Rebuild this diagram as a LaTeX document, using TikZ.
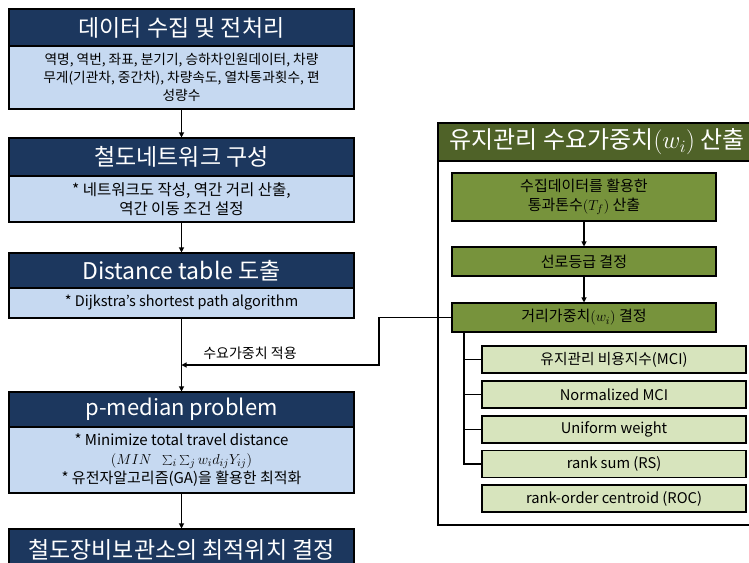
\documentclass[tikz,border=0pt]{standalone}
\usepackage{fontspec}
\setmainfont{Noto Sans CJK KR}
\usetikzlibrary{arrows.meta}
\definecolor{navy}{HTML}{1C375E}
\definecolor{lblue}{HTML}{C6D9F1}
\definecolor{dgreen}{HTML}{4F6228}
\definecolor{mgreen}{HTML}{77933C}
\definecolor{lgreen}{HTML}{D7E4BD}
\begin{document}
\begin{tikzpicture}[x=1pt,y=-1pt,
  hdr/.style={draw=black, line width=1.1pt, fill=navy, text=white, font=\fontsize{23}{27}\selectfont, minimum width=345pt, inner sep=0pt},
  bodyb/.style={draw=black, line width=1.1pt, fill=lblue, font=\fontsize{14.5}{18}\selectfont, align=center, minimum width=345pt, inner sep=0pt},
  ghdr/.style={draw=black, line width=1.1pt, fill=dgreen, text=white, font=\fontsize{24}{28}\selectfont, minimum width=318pt, minimum height=38pt, inner sep=0pt},
  mbox/.style={draw=black, line width=1.1pt, fill=mgreen, font=\fontsize{15}{18.5}\selectfont, align=center, minimum width=264pt, inner sep=0pt},
  lbox/.style={draw=black, line width=1.1pt, fill=lgreen, font=\fontsize{14.7}{18}\selectfont, align=center, minimum width=264pt, minimum height=27pt, inner sep=0pt},
  lbl/.style={font=\fontsize{14}{16}\selectfont, inner sep=0pt},
  conn/.style={line width=1.1pt},
  arr/.style={line width=1.1pt, -{Triangle[length=5pt,width=5pt]}}]
\clip (0,0) rectangle (749,562);
\fill[white] (0,0) rectangle (749,562);
% left column
\node[hdr, minimum height=37pt] (h1) at (181.5,27.5) {데이터 수집 및 전처리};
\node[bodyb, minimum height=63pt, font=\fontsize{13.7}{18}\selectfont] (b1) at (181.5,77.5) {역명, 역번, 좌표, 분기기, 승하차인원데이터, 차량\\무게(기관차, 중간차), 차량속도, 열차통과횟수, 편\\성량수};
\node[hdr, minimum height=38pt] (h2) at (181.5,157) {철도네트워크 구성};
\node[bodyb, minimum height=46pt, font=\fontsize{15.5}{18.5}\selectfont] (b2) at (181.5,199) {* 네트워크도 작성, 역간 거리 산출,\\역간 이동 조건 설정};
\node[hdr, minimum height=35pt] (h3) at (181.5,270.5) {Distance table 도출};
\node[bodyb, minimum height=30pt] (b3) at (181.5,303) {* Dijkstra’s shortest path algorithm};
\node[hdr, minimum height=35pt, font=\fontsize{22}{27}\selectfont] (h4) at (181.5,409.5) {p-median problem};
\node[bodyb, minimum height=66pt, font=\fontsize{15}{19}\selectfont] (b4) at (181.5,460) {* Minimize total travel distance\\$(MIN\;\;\sum_i\sum_j w_i d_{ij} Y_{ij})$\\* 유전자알고리즘(GA)을 활용한 최적화};
\node[hdr, minimum height=42pt] (h5) at (181.5,550) {철도장비보관소의 최적위치 결정};
\draw[arr] (b1.south) -- (h2.north);
\draw[arr] (b2.south) -- (h3.north);
\draw[arr] (b3.south) -- (h4.north);
\draw[arr] (b4.south) -- (h5.north);
% right panel
\node[draw=black, line width=1.1pt, minimum width=318pt, minimum height=402pt, inner sep=0pt] (frame) at (597,324) {};
\node[ghdr] (gh) at (597,142) {유지관리 수요가중치$(w_i)$ 산출};
\node[mbox, minimum height=48pt] (a) at (584,197) {수집데이터를 활용한\\통과톤수$(T_f)$ 산출};
\node[mbox, minimum height=29pt] (b) at (584,261.5) {선로등급 결정};
\node[mbox, minimum height=29pt] (c) at (584,317.5) {거리가중치$(w_i)$ 결정};
\node[lbox] (l1) at (614,359.5) {유지관리 비용지수(MCI)};
\node[lbox] (l2) at (614,394.5) {Normalized MCI};
\node[lbox] (l3) at (614,429.5) {Uniform weight};
\node[lbox] (l4) at (614,464) {rank sum (RS)};
\node[lbox] (l5) at (614,498.5) {rank-order centroid (ROC)};
\draw[arr] (a.south) -- (b.north);
\draw[arr] (b.south) -- (c.north);
\coordinate (trunk) at ([xshift=-120pt]c.south);
\draw[conn] (trunk) |- (l4.west);
\draw[conn] (trunk |- l1.west) -- (l1.west);
\draw[conn] (trunk |- l2.west) -- (l2.west);
\draw[conn] (trunk |- l3.west) -- (l3.west);
% demand weight connector
\coordinate (bend) at (379,317.5);
\coordinate (j) at (181.5,365);
\draw[arr] (c.west) -- (bend) |- (j);
\node[lbl] (lab) at (250,353) {수요가중치 적용};
\end{tikzpicture}
\end{document}
